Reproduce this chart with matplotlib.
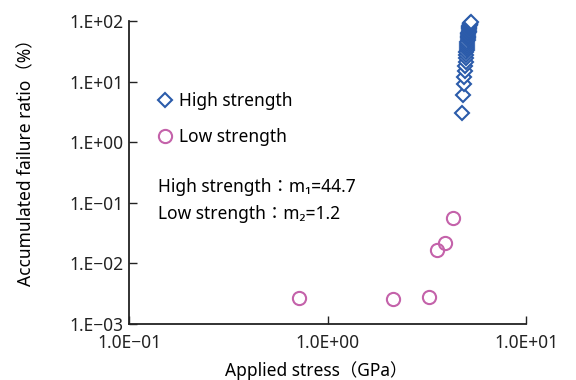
import matplotlib
matplotlib.use("Agg")
import matplotlib.pyplot as plt

plt.rcParams["font.family"] = ["Noto Sans", "Noto Sans CJK JP", "DejaVu Sans"]

# High strength: applied stress (GPa) vs accumulated failure ratio (%)
high_stress = [4.74, 4.81, 4.86, 4.89, 4.92, 4.94, 4.96, 4.97, 4.99, 5.00,
               5.02, 5.03, 5.04, 5.05, 5.06, 5.07, 5.08, 5.09, 5.10, 5.11,
               5.12, 5.13, 5.14, 5.15, 5.16, 5.17, 5.18, 5.19, 5.21, 5.22,
               5.24, 5.26]
high_ratio = [3.0, 6.1, 9.1, 12.1, 15.2, 18.2, 21.2, 24.2, 27.3, 30.3,
              33.3, 36.4, 39.4, 42.4, 45.5, 48.5, 51.5, 54.5, 57.6, 60.6,
              63.6, 66.7, 69.7, 72.7, 75.8, 78.8, 81.8, 84.8, 87.9, 90.9,
              93.9, 98.0]

# Low strength
low_stress = [0.72, 2.14, 3.25, 3.55, 3.90, 4.27]
low_ratio = [0.0027, 0.0026, 0.0028, 0.0166, 0.0215, 0.0555]

xticks = [0.1, 1, 10]
xticklabels = ["1.0E\u221201", "1.0E+00", "1.0E+01"]
yticks = [1e-3, 1e-2, 1e-1, 1, 10, 100]
yticklabels = ["1.E\u221203", "1.E\u221202", "1.E\u221201", "1.E+00", "1.E+01", "1.E+02"]

blue = "#2B5BAA"
pink = "#C462AA"
fs = 12.5

fig = plt.figure(figsize=(5.76, 3.80), dpi=100)
ax = fig.add_axes([0.2248, 0.1474, 0.6884, 0.7973])

ax.plot(high_stress, high_ratio, linestyle="none", marker="D", markersize=7.5,
        markerfacecolor="white", markeredgecolor=blue, markeredgewidth=1.5,
        label="High strength", clip_on=False)
ax.plot(low_stress, low_ratio, linestyle="none", marker="o", markersize=9.5,
        markerfacecolor="none", markeredgecolor=pink, markeredgewidth=1.5,
        label="Low strength", clip_on=False)

ax.set_xscale("log")
ax.set_yscale("log")
ax.set_xlim(0.1, 10)
ax.set_ylim(1e-3, 100)
ax.set_xticks(xticks)
ax.set_xticklabels(xticklabels)
ax.set_yticks(yticks)
ax.set_yticklabels(yticklabels)
ax.minorticks_off()
ax.tick_params(axis="both", direction="in", length=6, width=1, labelsize=fs,
               colors="#222222")
ax.tick_params(axis="x", pad=7)
ax.tick_params(axis="y", pad=4)

for side in ["top", "right"]:
    ax.spines[side].set_visible(False)
for side in ["left", "bottom"]:
    ax.spines[side].set_linewidth(1.3)
    ax.spines[side].set_color("#222222")

ax.set_xlabel("Applied stress\uff08GPa\uff09", fontsize=fs)
ax.set_ylabel("Accumulated failure ratio\uff08%\uff09", fontsize=fs)
ax.xaxis.set_label_coords(0.472, -0.123)
ax.yaxis.set_label_coords(-0.237, 0.548)

ax.legend(loc="upper left", bbox_to_anchor=(0.03, 0.818), frameon=False,
          fontsize=fs, handlelength=0.9, handletextpad=0.35, labelspacing=1.07,
          borderpad=0.4)

ax.text(0.072, 0.452, "High strength\uff1am\u2081=44.7", transform=ax.transAxes,
        fontsize=fs, va="center", ha="left")
ax.text(0.072, 0.363, "Low strength\uff1am\u2082=1.2", transform=ax.transAxes,
        fontsize=fs, va="center", ha="left")

fig.savefig("out.png", dpi=100)
